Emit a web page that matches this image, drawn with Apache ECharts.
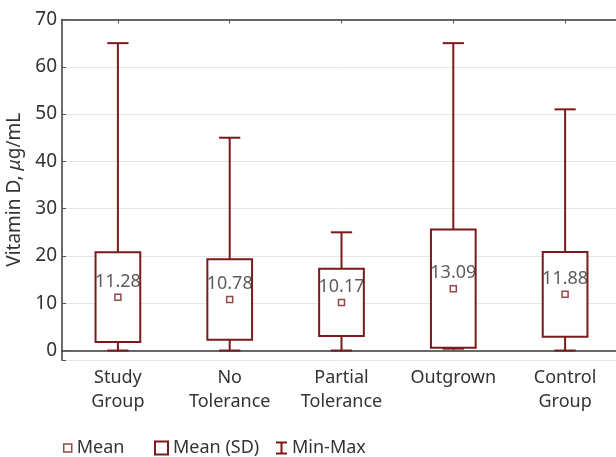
<!DOCTYPE html>
<html>
<head>
<meta charset="utf-8">
<script src="https://cdn.jsdelivr.net/npm/echarts@6/dist/echarts.min.js"></script>
<style>html,body{margin:0;padding:0;background:#fff}#c{width:616px;height:457px}</style>
</head>
<body>
<div id="c"></div>
<script>
const categories = ['Study\nGroup', 'No\nTolerance', 'Partial\nTolerance', 'Outgrown', 'Control\nGroup'];
const means = [11.28, 10.78, 10.17, 13.09, 11.88];
const sds = [9.5, 8.5, 7.1, 12.5, 8.95];
const mins = [0, 0, 0, 0.4, 0];
const maxs = [65, 45, 25, 65, 51];
const yTicks = [0, 10, 20, 30, 40, 50, 60, 70];

const RED = '#7a1a1a';
const TXT = '#333333';
const FONT = 'Noto Sans';

const boxData = categories.map((c, i) => [i, means[i] - sds[i], means[i] + sds[i]]);
const whiskerData = categories.map((c, i) => [i, mins[i], means[i] - sds[i], means[i] + sds[i], maxs[i]]);
const meanData = categories.map((c, i) => [i, means[i]]);

const chart = echarts.init(document.getElementById('c'), null, {renderer: 'canvas'});
chart.setOption({
  animation: false,
  backgroundColor: '#fff',
  grid: {left: 62, top: 19.5, width: 559, height: 340.5, containLabel: false, outerBoundsMode: 'none'},
  xAxis: [{
    type: 'category', data: categories, position: 'bottom',
    axisLine: {show: true, lineStyle: {color: '#3a3a3a', width: 1.5}},
    axisTick: {show: true, inside: true, length: 4, alignWithLabel: true, lineStyle: {color: '#555'}},
    axisLabel: {color: TXT, fontFamily: FONT, fontSize: 18, lineHeight: 24, margin: 6, interval: 0},
    splitLine: {show: false}
  }, {
    type: 'category', data: categories, position: 'top',
    axisLine: {show: true, lineStyle: {color: '#3a3a3a', width: 1.5}},
    axisTick: {show: true, inside: true, length: 4, alignWithLabel: true, lineStyle: {color: '#555'}},
    axisLabel: {show: false},
    splitLine: {show: false}
  }],
  yAxis: {
    type: 'value', min: -2, max: 70, minInterval: 10, maxInterval: 10,
    name: '{a|Vitamin D, }{b|μ}{a|g/mL}', nameLocation: 'middle', nameGap: 35,
    nameTextStyle: {rich: {
      a: {color: TXT, fontFamily: FONT, fontSize: 19},
      b: {color: TXT, fontFamily: FONT, fontSize: 19, fontStyle: 'italic'}
    }},
    axisLine: {show: true, lineStyle: {color: '#3a3a3a', width: 1.5}},
    axisTick: {show: true, inside: true, length: 4, lineStyle: {color: '#555'}},
    axisLabel: {color: TXT, fontFamily: FONT, fontSize: 19, margin: 5,
      formatter: v => yTicks.indexOf(v) >= 0 ? String(v) : ''},
    splitLine: {show: true, lineStyle: {color: '#e6e6e6', width: 1}}
  },
  legend: [{
    left: 63, top: 439, padding: 0, itemWidth: 8, itemHeight: 8,
    textStyle: {color: TXT, fontFamily: FONT, fontSize: 18},
    data: [{name: 'Mean', icon: 'rect', itemStyle: {color: '#fff', borderColor: RED, borderWidth: 1.5}}]
  }, {
    left: 154, top: 439, padding: 0, itemWidth: 13, itemHeight: 13,
    textStyle: {color: TXT, fontFamily: FONT, fontSize: 18},
    data: [{name: 'Mean (SD)', icon: 'rect', itemStyle: {color: '#fff', borderColor: RED, borderWidth: 2}}]
  }, {
    left: 276, top: 439, padding: 0, itemWidth: 11, itemHeight: 13,
    textStyle: {color: TXT, fontFamily: FONT, fontSize: 18},
    data: [{name: 'Min-Max', icon: 'path://M0,0H11V2H6.5V11H11V13H0V11H4.5V2H0Z', itemStyle: {color: RED, borderWidth: 0}}]
  }],
  series: [{
    name: 'Min-Max', type: 'custom', xAxisIndex: 0, z: 2,
    itemStyle: {color: RED},
    data: whiskerData,
    encode: {x: 0, y: [1, 2, 3, 4]},
    renderItem: function (params, api) {
      const i = api.value(0);
      const pMin = api.coord([i, api.value(1)]);
      const pLo = api.coord([i, api.value(2)]);
      const pHi = api.coord([i, api.value(3)]);
      const pMax = api.coord([i, api.value(4)]);
      const half = api.size([1, 0])[0] * 0.095;
      const st = {stroke: RED, lineWidth: 2, fill: null};
      return {type: 'group', children: [
        {type: 'line', shape: {x1: pMin[0], y1: pMin[1], x2: pLo[0], y2: pLo[1]}, style: st},
        {type: 'line', shape: {x1: pMin[0] - half, y1: pMin[1], x2: pMin[0] + half, y2: pMin[1]}, style: st},
        {type: 'line', shape: {x1: pHi[0], y1: pHi[1], x2: pMax[0], y2: pMax[1]}, style: st},
        {type: 'line', shape: {x1: pMax[0] - half, y1: pMax[1], x2: pMax[0] + half, y2: pMax[1]}, style: st}
      ]};
    }
  }, {
    name: 'Mean (SD)', type: 'custom', xAxisIndex: 0, z: 3,
    itemStyle: {color: RED},
    data: boxData,
    encode: {x: 0, y: [1, 2]},
    renderItem: function (params, api) {
      const i = api.value(0);
      const pLo = api.coord([i, api.value(1)]);
      const pHi = api.coord([i, api.value(2)]);
      const w = api.size([1, 0])[0] * 0.4;
      return {type: 'rect', shape: {x: pLo[0] - w / 2, y: pHi[1], width: w, height: pLo[1] - pHi[1]},
        style: {fill: '#fff', stroke: RED, lineWidth: 2}};
    }
  }, {
    name: 'Mean', type: 'scatter', xAxisIndex: 0, z: 5,
    symbol: 'rect', symbolSize: 6,
    itemStyle: {color: '#fff', borderColor: RED, borderWidth: 1.5},
    data: meanData,
    label: {show: true, position: 'top', distance: 3, color: TXT, fontFamily: FONT, fontSize: 18,
      formatter: p => p.value[1].toFixed(2)}
  }]
});
</script>
</body>
</html>
